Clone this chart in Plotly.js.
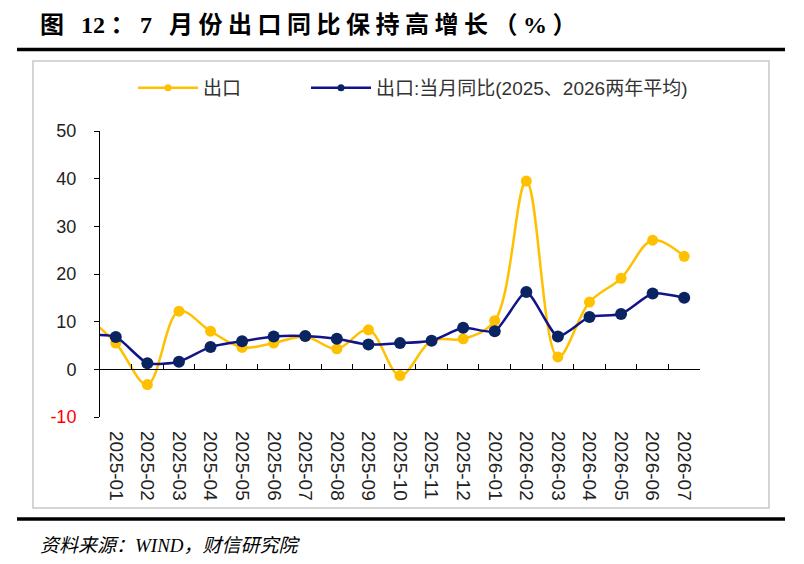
<!DOCTYPE html>
<html>
<head>
<meta charset="utf-8">
<script src="https://cdn.plot.ly/plotly-3.0.1.min.js"></script>
<style>
  html, body { margin: 0; padding: 0; background: #fff; }
  #chart { width: 804px; height: 564px; }
</style>
</head>
<body>
<div id="chart"></div>
<script>
  // months (2024-12 sits just left of the visible range, the line enters from it)
  var months = ['2024-12', '2025-01', '2025-02', '2025-03', '2025-04', '2025-05', '2025-06',
    '2025-07', '2025-08', '2025-09', '2025-10', '2025-11', '2025-12',
    '2026-01', '2026-02', '2026-03', '2026-04', '2026-05', '2026-06', '2026-07'];

  var exportYoY = [11.5, 5.5, -3.2, 12.2, 8.0, 4.6, 5.5, 6.9, 4.3, 8.3, -1.3, 6.0, 6.4,
    10.2, 39.5, 2.6, 14.1, 19.1, 27.1, 23.7];

  var exportAvg = [7.2, 6.8, 1.3, 1.6, 4.7, 5.9, 6.9, 7.0, 6.4, 5.2, 5.5, 6.0, 8.7,
    8.0, 16.2, 6.9, 11.0, 11.6, 15.9, 15.0];

  var yTicks = [-10, 0, 10, 20, 30, 40, 50];
  var yTickText = ['<span style="fill:#ff0000">-10</span>', '0', '10', '20', '30', '40', '50'];

  var gold = '#FFC000';
  var navyLine = '#12128a';
  var navyMark = '#0a2462';
  var baseFont = 'Liberation Sans, Arial, Noto Sans CJK SC, sans-serif';

  var traceExport = {
    x: months, y: exportYoY,
    mode: 'lines+markers', type: 'scatter',
    name: '出口', showlegend: false,
    line: {color: gold, width: 2.5, shape: 'spline', smoothing: 1},
    marker: {color: gold, size: 11}
  };

  var traceAvg = {
    x: months, y: exportAvg,
    mode: 'lines+markers', type: 'scatter',
    name: '出口:当月同比(2025、2026两年平均)', showlegend: false,
    line: {color: navyLine, width: 2.5, shape: 'spline', smoothing: 0.6},
    marker: {color: navyMark, size: 12}
  };

  // legend-only entries with the small symbol markers, one legend box each
  var legendExport = {
    x: [null], y: [null], mode: 'lines+markers', type: 'scatter',
    name: '出口', legend: 'legend',
    line: {color: gold, width: 2.5},
    marker: {color: gold, size: 7}
  };
  var legendAvg = {
    x: [null], y: [null], mode: 'lines+markers', type: 'scatter',
    name: '出口:当月同比(2025、2026两年平均)', legend: 'legend2',
    line: {color: navyLine, width: 2.5},
    marker: {color: navyMark, size: 7}
  };

  // invisible copy on the zero-crossing axis so it gets drawn
  var zeroAxisTrace = {
    x: months, y: exportAvg, xaxis: 'x2', type: 'scatter', mode: 'markers',
    marker: {opacity: 0}, showlegend: false, hoverinfo: 'skip'
  };

  // pixel helpers for the paper-coordinate decorations
  var plotL = 100, plotR = 700, plotT = 131, plotB = 417;
  function px(x) { return (x - plotL) / (plotR - plotL); }
  function py(y) { return (plotB - y) / (plotB - plotT); }

  function legendBox(left) {
    return {
      orientation: 'h', x: px(left), y: py(88), xanchor: 'left', yanchor: 'middle',
      font: {family: baseFont, size: 19, color: '#333333'},
      itemwidth: 60, bgcolor: 'rgba(0,0,0,0)'
    };
  }

  var spaced = 'letter-spacing:5.5px';

  var layout = {
    width: 804, height: 564,
    margin: {l: plotL, r: 804 - plotR, t: plotT, b: 564 - plotB},
    paper_bgcolor: '#ffffff', plot_bgcolor: '#ffffff',
    font: {family: baseFont, size: 18, color: '#222222'},
    showlegend: true,
    legend: legendBox(133),
    legend2: legendBox(306),
    xaxis: {
      type: 'category', range: [0.5, 19.5],
      showline: false, showgrid: false, zeroline: false,
      ticks: '', tickangle: 90, ticklabelstandoff: 13,
      tickfont: {family: baseFont, size: 19, color: '#222222'}
    },
    xaxis2: {
      type: 'category', matches: 'x', overlaying: 'x', anchor: 'free', position: 1 / 6,
      showline: true, linecolor: '#000000', linewidth: 1,
      ticks: 'inside', tickson: 'boundaries', ticklen: 5, tickcolor: '#000000',
      showticklabels: false, showgrid: false, zeroline: false
    },
    yaxis: {
      range: [-10, 50], tickvals: yTicks, ticktext: yTickText,
      showline: true, linecolor: '#000000', linewidth: 1,
      ticks: 'outside', ticklen: 5, tickcolor: '#000000', ticklabelstandoff: 14,
      showgrid: false, zeroline: false,
      tickfont: {family: baseFont, size: 18, color: '#222222'}
    },
    shapes: [
      {type: 'rect', xref: 'paper', yref: 'paper', x0: px(33), x1: px(769), y0: py(508), y1: py(61),
        line: {color: '#c8c8c8', width: 1.5}, layer: 'below'},
      {type: 'line', xref: 'paper', yref: 'paper', x0: px(17), x1: px(785), y0: py(49.5), y1: py(49.5),
        line: {color: '#000000', width: 3.5}},
      {type: 'line', xref: 'paper', yref: 'paper', x0: px(17), x1: px(785), y0: py(519), y1: py(519),
        line: {color: '#000000', width: 3.5}}
    ],
    annotations: [
      {xref: 'paper', yref: 'paper', x: px(38), y: py(25), xanchor: 'left', yanchor: 'middle',
        showarrow: false,
        text: '<b><span style="' + spaced + '">图 </span>1<span style="' + spaced + '">2：7 月份出口同比保持高增长（%）</span></b>',
        font: {family: 'Liberation Serif, Noto Sans CJK SC, serif', size: 24, color: '#000000'}},
      {xref: 'paper', yref: 'paper', x: px(38), y: py(545), xanchor: 'left', yanchor: 'middle',
        showarrow: false, text: '<i>资料来源：WIND，财信研究院</i>',
        font: {family: 'Liberation Serif, Noto Sans CJK SC, serif', size: 19, color: '#000000'}}
    ]
  };

  Plotly.newPlot('chart', [traceExport, traceAvg, zeroAxisTrace, legendExport, legendAvg], layout,
    {displayModeBar: false, staticPlot: true});
</script>
</body>
</html>
